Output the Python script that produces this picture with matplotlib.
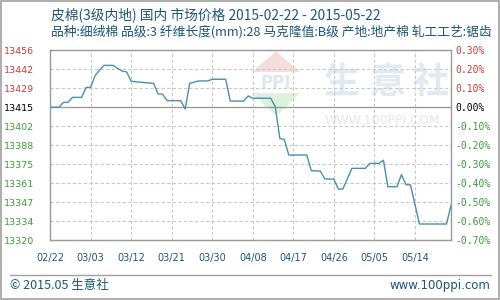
import matplotlib
matplotlib.use("Agg")
import matplotlib.pyplot as plt
from matplotlib.patches import Polygon, Rectangle
import pandas as pd

plt.rcParams['font.family'] = ['Noto Sans CJK SC', 'DejaVu Sans']

# ---- data ----
base_price = 13415
dates = ["2015-02-22", "2015-02-24", "2015-02-25", "2015-02-26", "2015-02-27", "2015-03-01",
         "2015-03-02", "2015-03-03", "2015-03-04", "2015-03-05", "2015-03-06", "2015-03-08",
         "2015-03-09", "2015-03-10", "2015-03-11", "2015-03-12", "2015-03-13", "2015-03-17",
         "2015-03-18", "2015-03-19", "2015-03-20", "2015-03-23", "2015-03-24", "2015-03-25",
         "2015-03-27", "2015-03-29", "2015-03-30", "2015-04-02", "2015-04-03", "2015-04-06",
         "2015-04-07", "2015-04-08", "2015-04-12", "2015-04-13", "2015-04-14", "2015-04-15",
         "2015-04-16", "2015-04-20", "2015-04-21", "2015-04-23", "2015-04-24", "2015-04-26",
         "2015-04-27", "2015-04-28", "2015-04-30", "2015-05-03", "2015-05-04", "2015-05-06",
         "2015-05-07", "2015-05-08", "2015-05-10", "2015-05-11", "2015-05-12", "2015-05-13",
         "2015-05-15", "2015-05-21", "2015-05-22"]
prices = [13415, 13415, 13418.5, 13418.5, 13422, 13422, 13429, 13429, 13437.3, 13441.3,
          13444.6, 13444.6, 13442.5, 13440.6, 13440, 13433.5, 13433, 13431.9, 13424.4, 13424.2,
          13419.7, 13419.7, 13413.8, 13431.9, 13433.6, 13433.6, 13434.8, 13434.8, 13419.4, 13419.4,
          13423, 13421.4, 13421.4, 13415.4, 13393.1, 13392.3, 13381.3, 13381.3, 13370.2, 13370,
          13364.4, 13364.3, 13357.3, 13357.3, 13371.9, 13371.9, 13375.4, 13375.4, 13377.6, 13358.9,
          13358.9, 13367.4, 13360.4, 13360.2, 13332.6, 13332.6, 13345.7]
pct_ticks = [0.3, 0.2, 0.1, 0.0, -0.1, -0.2, -0.3, -0.4, -0.5, -0.6, -0.7]
price_labels = ["13456", "13442", "13429", "13415", "13402", "13388", "13375",
                "13361", "13347", "13334", "13320"]
pct_labels = ["0.30%", "0.20%", "0.10%", "0.00%", "-0.10%", "-0.20%", "-0.30%",
              "-0.40%", "-0.50%", "-0.60%", "-0.70%"]
xtick_dates = ["2015-02-22", "2015-03-03", "2015-03-12", "2015-03-21", "2015-03-30",
               "2015-04-08", "2015-04-17", "2015-04-26", "2015-05-05", "2015-05-14"]
xtick_labels = ["02/22", "03/03", "03/12", "03/21", "03/30", "04/08", "04/17", "04/26",
                "05/05", "05/14"]
title1 = "皮棉(3级内地) 国内 市场价格 2015-02-22 - 2015-05-22"
title2 = "品种:细绒棉 品级:3 纤维长度(mm):28 马克隆值:B级 产地:地产棉 轧工工艺:锯齿"
footer_left = "© 2015.05 生意社"
footer_right = "www.100ppi.com"
watermark_chars = ["生", "意", "社"]

TEAL = "#1d5677"
RED = "#c83c3c"
GREEN = "#3c9a3c"
LINE = "#4a8fae"

fig = plt.figure(figsize=(5, 3), dpi=100)
fig.patch.set_facecolor("white")
W, H = 500, 300

def fx(px):
    return px / W

def fy(py):
    return 1 - py / H

# outer border
fig.add_artist(Rectangle((0.001, 0.002), 0.997, 0.995, transform=fig.transFigure,
                         fill=False, edgecolor="#a0a0a0", lw=1.2))

ax = fig.add_axes([fx(50), fy(240.3), fx(451) - fx(50), fy(50.3) - fy(240.3)])
ax.set_facecolor("none")

xd = pd.to_datetime(dates)
x0 = pd.Timestamp("2015-02-22")
x1 = pd.Timestamp("2015-05-22")
ax.set_xlim(x0, x1)
ytick_vals = [base_price * (1 + p / 100) for p in pct_ticks]
ax.set_ylim(base_price * (1 - 0.007), base_price * (1 + 0.003))

# watermark
for cx, ch in zip([0.727, 0.841, 0.948], watermark_chars):
    ax.text(cx, 0.83, ch, transform=ax.transAxes, fontsize=26, fontweight="bold",
            color="#e3e9f1", ha="center", va="center", zorder=0)
ax.text(0.685, 0.63, "WWW.100PPI.COM", transform=ax.transAxes, fontsize=9,
        color="#e6e6e6", ha="left", va="center", family="DejaVu Sans", zorder=0)
ax.add_patch(Polygon([(0.504, 0.886), (0.623, 0.886), (0.564, 0.995)], closed=True,
                     transform=ax.transAxes, facecolor="#f7dcdc", edgecolor="none", zorder=0))
ax.add_patch(Polygon([(0.504, 0.774), (0.623, 0.774), (0.564, 0.655)], closed=True,
                     transform=ax.transAxes, facecolor="#ddf0dd", edgecolor="none", zorder=0))
ax.text(0.564, 0.83, "PPI", transform=ax.transAxes, fontsize=12, fontweight="bold",
        color="#dfe6f0", ha="center", va="center", family="DejaVu Sans", zorder=0)

# grid
for yv, p in zip(ytick_vals, pct_ticks):
    if p == 0.0:
        ax.axhline(yv, color="#9a9a9a", lw=1.0, zorder=1)
    else:
        ax.axhline(yv, color="#c8c8c8", lw=0.8, ls=(0, (3, 2)), zorder=1)
for d in pd.to_datetime(xtick_dates)[1:]:
    ax.axvline(d, color="#c8c8c8", lw=0.8, ls=(0, (3, 2)), zorder=1)

ax.plot(xd, prices, color=LINE, lw=1.0, zorder=3)

for s in ax.spines.values():
    s.set_color("#9a9a9a")
    s.set_linewidth(1.0)

ax.set_yticks(ytick_vals)
ax.set_yticklabels(price_labels, family="DejaVu Sans", fontsize=6.8)
ax.tick_params(axis="y", length=0, pad=11.5)
for lab, p in zip(ax.get_yticklabels(), pct_ticks):
    lab.set_color(RED if p > 0 else ("black" if p == 0 else GREEN))

ax.set_xticks(pd.to_datetime(xtick_dates))
ax.set_xticklabels(xtick_labels, family="DejaVu Sans", fontsize=7, color=TEAL)
ax.tick_params(axis="x", length=0, pad=9)

ax2 = ax.twinx()
ax2.set_ylim(ax.get_ylim())
ax2.set_yticks(ytick_vals)
ax2.set_yticklabels(pct_labels, family="DejaVu Sans Mono", fontsize=7)
ax2.tick_params(axis="y", length=0, pad=3)
for lab, p in zip(ax2.get_yticklabels(), pct_ticks):
    lab.set_color(RED if p > 0 else ("black" if p == 0 else GREEN))
for s in ax2.spines.values():
    s.set_visible(False)

# titles
fig.text(fx(51), fy(15), title1, fontsize=9.9, color=TEAL, ha="left", va="center")
fig.text(fx(51), fy(32), title2, fontsize=9.2, color=TEAL, ha="left", va="center")

# footer
fig.add_artist(plt.Line2D([fx(10), fx(491)], [fy(275), fy(275)], transform=fig.transFigure,
                          color="#a0a0a0", lw=1.0))
fig.text(fx(10), fy(285), footer_left, fontsize=9, color=TEAL, ha="left", va="center")
fig.text(fx(490), fy(285), footer_right, fontsize=8.5, color=TEAL, ha="right", va="center",
         family="DejaVu Sans")

fig.savefig("out.png", dpi=100)
